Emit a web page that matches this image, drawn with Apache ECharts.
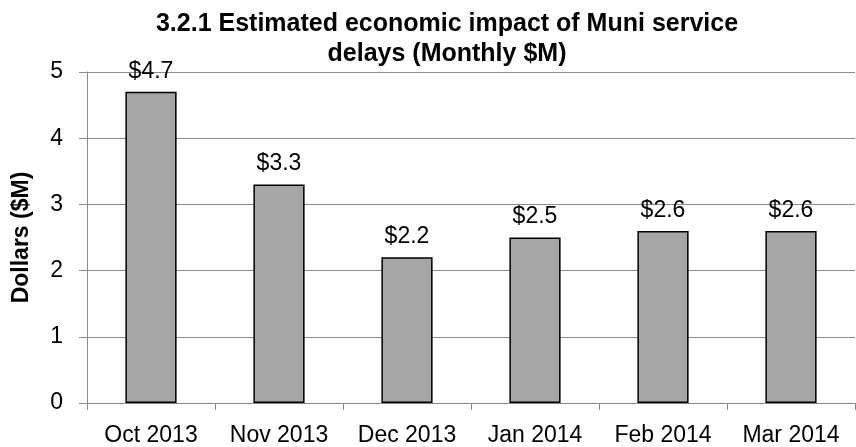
<!DOCTYPE html>
<html>
<head>
<meta charset="utf-8">
<script src="https://cdn.jsdelivr.net/npm/echarts@6/dist/echarts.min.js"></script>
<style>
    html, body { margin: 0; padding: 0; background: #fff; }
    #chart { width: 856px; height: 447px; }
</style>
</head>
<body>
<div id="chart"></div>
<script>
    // data
    let months = ['Oct 2013', 'Nov 2013', 'Dec 2013', 'Jan 2014', 'Feb 2014', 'Mar 2014']
    let impact = [4.7, 3.3, 2.2, 2.5, 2.6, 2.6]
    let yTicks = [0, 1, 2, 3, 4, 5]

    let font = 'Liberation Sans, Arial, sans-serif'
    let option = {
        animation: false,
        title: {
            text: '3.2.1 Estimated economic impact of Muni service\ndelays (Monthly $M)',
            left: 442,
            top: 4,
            textAlign: 'center',
            textStyle: {
                fontFamily: font,
                fontSize: 25,
                fontWeight: 'bold',
                color: '#000',
                lineHeight: 30,
            },
        },
        grid: {
            left: 87,
            right: 1,
            top: 72,
            bottom: 44,
        },
        xAxis: {
            type: 'category',
            data: months,
            axisLine: { lineStyle: { color: '#8c8c8c', width: 1 } },
            axisTick: { show: true, length: 7, lineStyle: { color: '#8c8c8c' } },
            axisLabel: {
                margin: 21,
                fontFamily: font,
                fontSize: 23,
                color: '#000',
            },
        },
        yAxis: {
            type: 'value',
            min: yTicks[0],
            max: yTicks[yTicks.length - 1],
            interval: 1,
            name: 'Dollars ($M)',
            nameLocation: 'middle',
            nameGap: 54,
            nameTextStyle: {
                fontFamily: font,
                fontSize: 23,
                fontWeight: 'bold',
                color: '#000',
            },
            axisLine: { show: true, lineStyle: { color: '#8c8c8c', width: 1 } },
            axisTick: { show: true, length: 8, lineStyle: { color: '#8c8c8c' } },
            splitLine: { show: true, lineStyle: { color: '#8c8c8c', width: 1 } },
            axisLabel: {
                margin: 24,
                fontFamily: font,
                fontSize: 23,
                color: '#000',
            },
        },
        series: [
            {
                type: 'bar',
                data: impact,
                barWidth: '40%',
                itemStyle: {
                    color: '#a6a6a6',
                    borderColor: '#000',
                    borderWidth: 1.5,
                },
                label: {
                    show: true,
                    position: 'top',
                    distance: 9,
                    formatter: (p) => '$' + p.value.toFixed(1),
                    fontFamily: font,
                    fontSize: 23,
                    color: '#000',
                },
            },
        ],
    }

    let myChart = echarts.init(document.getElementById('chart'))
    myChart.setOption(option)
</script>
</body>
</html>
